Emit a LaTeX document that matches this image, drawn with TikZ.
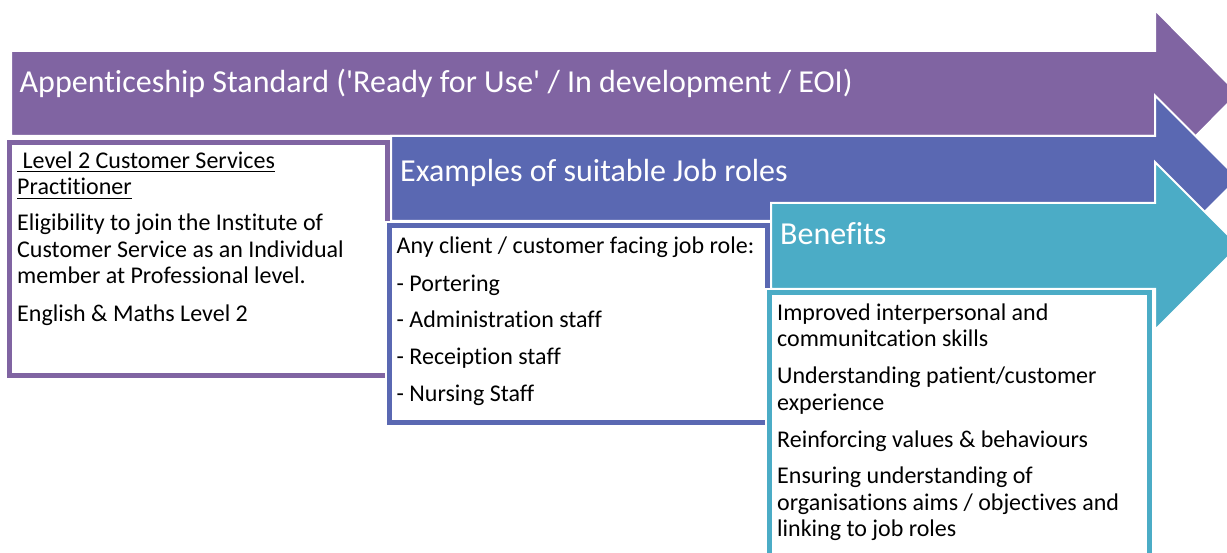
\documentclass[tikz,border=0pt]{standalone}
\usepackage{fontspec}
\setmainfont{Carlito}[Ligatures={TeXOff,NoCommon}]
\definecolor{cpurple}{RGB}{128,100,162}
\definecolor{cblue}{RGB}{90,104,178}
\definecolor{cteal}{RGB}{75,172,198}
\tikzset{
  arrowshape/.style={draw=white, line width=2pt, line join=miter},
  halo/.style={draw=white, line width=9pt},
  frame/.style={fill=white, line width=5.3pt},
  title/.style={text=white, anchor=base west, inner sep=0pt, font=\fontsize{32}{38}\selectfont},
  body/.style={text=black, anchor=base west, inner sep=0pt, font=\fontsize{24}{26}\selectfont},
  uline/.style={draw=black, line width=1.4pt}
}
\begin{document}
\begin{tikzpicture}[x=1pt,y=-1pt]
\useasboundingbox (0,0) rectangle (1227,553);
\clip (0,0) rectangle (1227,553);
% arrow 1
\fill[cpurple, arrowshape] (11,51) -- (1155,51) -- (1155,10) -- (1238,93.5) -- (1155,177) -- (1155,136) -- (11,136) -- cycle;
% box 1
\draw[halo] (9.5,142.5) rectangle (388,375.5);
\draw[frame, draw=cpurple] (9.5,142.5) rectangle (388,375.5);
% arrow 2
\fill[cblue, arrowshape] (391,136) -- (1155,136) -- (1155,95.5) -- (1238,178.5) -- (1155,261.5) -- (1155,221) -- (391,221) -- cycle;
% box 2
\draw[halo] (389.5,225.5) rectangle (767.5,422.5);
\draw[frame, draw=cblue] (389.5,225.5) rectangle (767.5,422.5);
% arrow 3
\fill[cteal, arrowshape] (771,203) -- (1155,203) -- (1155,162) -- (1239,246) -- (1155,330) -- (1155,289) -- (771,289) -- cycle;
% box 3
\draw[halo] (769.5,292.5) rectangle (1149.5,590);
\draw[frame, draw=cteal] (769.5,292.5) rectangle (1149.5,590);

% titles
\node[title] (t1) at (19.5,93) {Appenticeship Standard ('Ready for Use' / In development / EOI)};
\node[title] (t2) at (400,181.5) {Examples of suitable Job roles};
\node[title] (t3) at (780,245) {Benefits};

% box 1 text
\node[body] (a1) at (17,168.3) {\ Level 2 Customer Services};
\node[body] (a2) at (17,195) {Practitioner};
\draw[uline] ([yshift=-3.5pt]a1.base west) -- ([yshift=-3.5pt]a1.base east);
\draw[uline] ([yshift=-3.5pt]a2.base west) -- ([yshift=-3.5pt]a2.base east);
\node[body] (a3) at (17,230.7) {Eligibility to join the Institute of};
\node[body] (a4) at (17,257.3) {Customer Service as an Individual};
\node[body] (a5) at (17,283.5) {member at Professional level.};
\node[body] (a6) at (17,321.5) {English \& Maths Level 2};

% box 2 text
\node[body] (b1) at (396.5,253.3) {Any client / customer facing job role:};
\node[body] (b2) at (396.5,291.3) {- Portering};
\node[body] (b3) at (396.5,328) {- Administration staff};
\node[body] (b4) at (396.5,365) {- Receiption staff};
\node[body] (b5) at (396.5,401.7) {- Nursing Staff};

% box 3 text
\node[body] (c1) at (777,320.7) {Improved interpersonal and};
\node[body] (c2) at (777,346.7) {communitcation skills};
\node[body] (c3) at (777,384) {Understanding patient/customer};
\node[body] (c4) at (777,410) {experience};
\node[body] (c5) at (777,447.3) {Reinforcing values \& behaviours};
\node[body] (c6) at (777,483.3) {Ensuring understanding of};
\node[body] (c7) at (777,510) {organisations aims / objectives and};
\node[body] (c8) at (777,536) {linking to job roles};
\end{tikzpicture}
\end{document}
